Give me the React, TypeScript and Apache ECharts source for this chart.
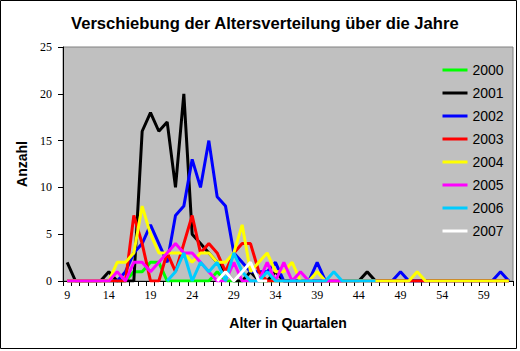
import React, { useEffect, useRef } from "react";
import * as echarts from "echarts";

const TITLE = "Verschiebung der Altersverteilung über die Jahre";
const X_NAME = "Alter in Quartalen";
const Y_NAME = "Anzahl";

// ages 9..62 (quarters)
const AGES = [9,10,11,12,13,14,15,16,17,18,19,20,21,22,23,24,25,26,27,28,29,30,31,32,33,34,35,36,37,38,39,40,41,42,43,44,45,46,47,48,49,50,51,52,53,54,55,56,57,58,59,60,61,62];

const YEARS = ["2000","2001","2002","2003","2004","2005","2006","2007"];
const COLORS = ["#00FF00","#000000","#0000FF","#FF0000","#FFFF00","#FF00FF","#00CCFF","#FFFFFF"];

const _ = null;
//              9  10 11 12 13 14 15 16 17 18 19 20 21 22 23 24 25 26 27 28 29 30 31 32 33 34 35 36 37 38 39 40 41 42 43 44 45 46 47 48 49 50 51 52 53 54 55 56 57 58 59 60 61 62
const Y2000 = [ 0, 0, 0, 0, 0, 0, 0, 0, 1, 1, 2, 2, 0, 0, 0, 0, 0, 0, 1, 0, 0, 0, 0, 0, 0, 0, 0, 0, 0, 0, 0, 0, _, _, _, _, _, _, _, _, _, _, _, _, _, _, _, _, _, _, _, _, _, _];
const Y2001 = [ 2, 0, 0, 0, 0, 1, 0, 0, 0,16,18,16,17,10,20, 5, 4, 3, 2, 1, 0, 0, 1, 0, 0, 1, 0, 0, 0, 0, 0, 0, 0, 0, 0, 0, 1, 0, 0, 0, 0, 0, 0, 0, 0, 0, 0, 0, 0, 0, 0, 0, 0, 0];
const Y2002 = [ 0, 0, 0, 0, 0, 0, 0, 1, 3, 4, 6, 4, 2, 7, 8,13,10,15, 9, 8, 3, 2, 1, 1, 1, 2, 0, 0, 0, 0, 2, 0, 0, 0, 0, 0, 0, 0, 0, 0, 1, 0, 0, 0, 0, 0, 0, 0, 0, 0, 0, 0, 1, 0];
const Y2003 = [ 0, 0, 0, 0, 0, 0, 0, 0, 7, 4, 0, 0, 3, 1, 4, 7, 3, 4, 3, 1, 3, 4, 4, 1, 0, 0, 0, 0, 0, 0, 0, 0, 0, 0, 0, 0, 0, 0, 0, 0, 0, 0, 0, 0, 0, 0, 0, 0, 0, 0, 0, 0, 0, 0];
const Y2004 = [ 0, 0, 0, 0, 0, 0, 2, 2, 3, 8, 5, 3, 3, 3, 3, 2, 3, 3, 2, 2, 3, 6, 1, 2, 3, 1, 1, 2, 0, 0, 1, 0, 0, 0, 0, 0, 0, 0, 0, 0, 0, 0, 1, 0, 0, 0, 0, 0, 0, 0, 0, 0, 0, 0];
const Y2005 = [ 0, 0, 0, 0, 0, 0, 1, 0, 2, 2, 1, 2, 3, 4, 3, 3, 2, 1, 0, 0, 2, 0, 0, 0, 2, 0, 2, 0, 1, 0, 0, 0, 0, 0, _, _, _, _, _, _, _, _, _, _, _, _, _, _, _, _, _, _, _, _];
const Y2006 = [ _, _, _, _, _, _, _, _, _, _, _, _, 0, 1, 3, 0, 2, 1, 2, 0, 3, 1, 0, 0, 1, 0, 0, 0, 0, 0, 0, 0, 1, 0, 0, 0, 0, 0, _, _, _, _, _, _, _, _, _, _, _, _, _, _, _, _];
const Y2007 = [ _, _, _, _, _, _, _, _, _, _, _, _, _, _, _, _, _, _, 0, 1, 0, 1, 2, 0, 0, _, _, _, _, _, _, _, _, _, _, _, _, _, _, _, _, _, _, _, _, _, _, _, _, _, _, _, _, _];

const SERIES_DATA = [Y2000, Y2001, Y2002, Y2003, Y2004, Y2005, Y2006, Y2007];

export default function App() {
  const ref = useRef<HTMLDivElement>(null);
  useEffect(() => {
    if (!ref.current) return;
    const chart = echarts.init(ref.current, undefined, { renderer: "svg" });
    const sans = "Liberation Sans, Arial, sans-serif";
    const serif = "Liberation Serif, Times New Roman, serif";
    chart.setOption({
      animation: false,
      backgroundColor: "#FFFFFF",
      title: {
        text: TITLE,
        left: 66,
        top: 10,
        textStyle: { fontFamily: sans, fontWeight: "bold", fontSize: 16.6, color: "#000" },
      },
      grid: {
        left: 63,
        top: 47,
        width: 450,
        height: 234,
        show: true,
        backgroundColor: "#C0C0C0",
        borderColor: "#808080",
        borderWidth: 1,
      },
      legend: {
        orient: "vertical",
        left: 436,
        top: 58,
        itemWidth: 25,
        itemHeight: 14,
        itemGap: 9,
        lineStyle: { width: 3 },
        itemStyle: { opacity: 0 },
        textStyle: { fontFamily: sans, fontSize: 14, color: "#000" },
        data: YEARS,
      },
      xAxis: {
        type: "category",
        data: AGES.map(String),
        boundaryGap: true,
        name: X_NAME,
        nameLocation: "middle",
        nameGap: 35,
        nameTextStyle: { fontFamily: sans, fontWeight: "bold", fontSize: 14, color: "#000" },
        axisLine: { show: true, lineStyle: { color: "#000", width: 1 } },
        axisTick: { show: true, interval: 0, length: 5, lineStyle: { color: "#000" } },
        axisLabel: { interval: 4, margin: 8, fontFamily: serif, fontSize: 12, color: "#000" },
        splitLine: { show: false },
      },
      yAxis: {
        type: "value",
        min: 0,
        max: 25,
        interval: 5,
        name: Y_NAME,
        nameLocation: "middle",
        nameGap: 26,
        nameRotate: 90,
        nameTextStyle: { fontFamily: sans, fontWeight: "bold", fontSize: 14, color: "#000" },
        axisLine: { show: true, lineStyle: { color: "#000", width: 1 } },
        axisTick: { show: true, length: 5, lineStyle: { color: "#000" } },
        axisLabel: { margin: 11, fontFamily: serif, fontSize: 12, color: "#000" },
        splitLine: { show: false },
      },
      graphic: [
        {
          type: "rect",
          shape: { x: 0.5, y: 0.5, width: 516, height: 348 },
          style: { fill: "none", stroke: "#000", lineWidth: 1 },
          silent: true,
        },
      ],
      series: YEARS.map((y, i) => ({
        name: y,
        type: "line",
        data: SERIES_DATA[i],
        symbol: "none",
        showSymbol: false,
        connectNulls: false,
        color: COLORS[i],
        lineStyle: { color: COLORS[i], width: 3 },
      })),
    });
    return () => chart.dispose();
  }, []);
  return (
    <div
      ref={ref}
      style={{ position: "fixed", left: 0, top: 0, width: 520, height: 351 }}
    />
  );
}
